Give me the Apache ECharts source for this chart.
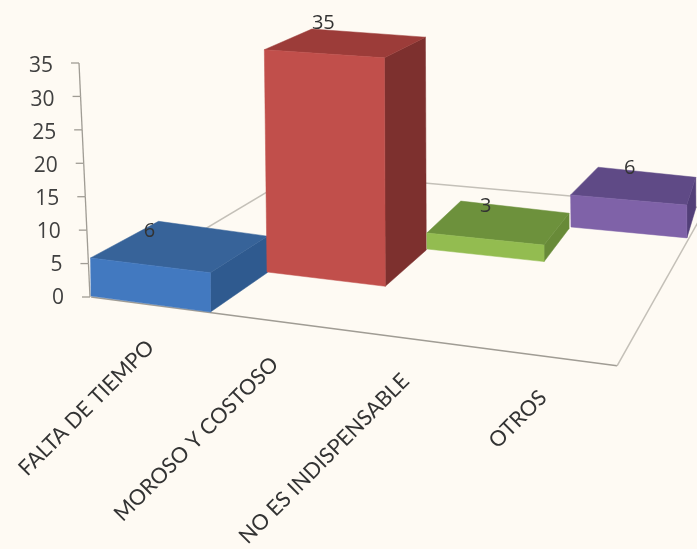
<!DOCTYPE html>
<html><head><meta charset="utf-8">
<style>html,body{margin:0;padding:0;background:#FEFAF3}#c{width:697px;height:549px}</style>
<script src="https://cdn.jsdelivr.net/npm/echarts@6/dist/echarts.min.js"></script>
</head><body><div id="c"></div>
<script>
var categories = ['FALTA DE TIEMPO', 'MOROSO Y COSTOSO', 'NO ES INDISPENSABLE', 'OTROS'];
var values = [6, 35, 3, 6];
var valueTicks = [0, 5, 10, 15, 20, 25, 30, 35];
var floorCorners = [[0, 0], [2.859, -10.3], [3.342, 13.3], [1.14, 18.7]];
var frontColors = ['#4279C0', '#C14F4B', '#93BC50', '#7F62A8'];
var topColors = ['#376399', '#9C3C39', '#6D913C', '#5F4A86'];
var sideColors = ['#2F5A8F', '#7D302E', '#688A38', '#523F78'];

var chart = echarts.init(document.getElementById('c'));
var FONT = '"Open Sans", sans-serif';

function poly(pts, fill) {
  return {type: 'polygon', shape: {points: pts}, style: {fill: fill, stroke: fill, lineWidth: 0.5}};
}
// hand-fitted oblique projection of the chart's 3D box onto the page
function renderBar(params, api) {
  var i = api.value(0), v = api.value(1);
  var z = api.coord([i, 0]), t = api.coord([i, v]);
  var h = (z[1] - t[1]) * (i < 2 ? 0.95 : 0.8);
  var bx = z[0] - 8 * i * i, by = z[1] - 1 - 24.5 * i + 0.5 * i * i;
  var lift = 1 - 0.0123 * v;
  var dxF = 119.5 - 1.2 * i, dyF = 16 - 1.7 * i;
  var dxL = 68 - 24 * i + 3.5 * i * i, dxR = 57 - 16 * i, dyD = 39.5 - 3.2 * i;
  var lean = -0.012 * h;
  var BL = [bx, by], BR = [bx + dxF, by + dyF];
  var TL = [bx + lean, by - h], TR = [bx + dxF + lean / 3, by - h + dyF * lift];
  var BK = [TL[0] + dxL, TL[1] - dyD * lift], KR = [TR[0] + dxR, TR[1] - dyD * lift];
  var SB = [BR[0] + dxR, BR[1] - dyD];
  return {type: 'group', children: [
    poly([TR, KR, SB, BR], sideColors[i]),
    poly([TL, BK, KR, TR], topColors[i]),
    poly([TL, TR, BR, BL], frontColors[i]),
    {type: 'text', x: TL[0] + 59, y: TL[1] - 26.5, style: {text: String(v), font: '20px ' + FONT, fill: '#333333', textAlign: 'center', textVerticalAlign: 'middle'}, z2: 10}
  ]};
}
function renderFloor(params, api) {
  if (params.dataIndex !== 0) return;
  var pts = floorCorners.map(function (c) { return api.coord(c); });
  var lines = [];
  for (var k = 0; k < 4; k++) {
    lines.push({type: 'line', shape: {x1: pts[k][0], y1: pts[k][1], x2: pts[(k + 1) % 4][0], y2: pts[(k + 1) % 4][1]},
      style: {stroke: k === 0 ? '#A09C94' : '#C4C0B8', lineWidth: 1.5}});
  }
  return {type: 'group', children: lines};
}
function slantX(api, v) { return api.coord([0, 0])[0] - 1 - 11 * v / 35; }
function renderTick(params, api) {
  var v = api.value(0), y = api.coord([0, v])[1], x = slantX(api, v);
  var kids = [
    {type: 'line', shape: {x1: x - 8, y1: y, x2: x, y2: y}, style: {stroke: '#A09C94', lineWidth: 1.3}},
    {type: 'text', x: x - 26, y: y + 1 + 2.5 * v / 35, style: {text: String(v), font: '21px ' + FONT, fill: '#404040', textAlign: 'right', textVerticalAlign: 'middle'}}
  ];
  if (v > 0) {
    var xp = slantX(api, v - 5), yp = api.coord([0, v - 5])[1];
    kids.push({type: 'line', shape: {x1: xp, y1: yp, x2: x, y2: y}, style: {stroke: '#A09C94', lineWidth: 1.3}});
  }
  return {type: 'group', children: kids};
}
function renderCat(params, api) {
  var i = api.value(0), z = api.coord([i, 0]);
  var x = z[0] + 59.5 - 63 * i + 3.3 * i * i, y = z[1] + 47 + 16.7 * i;
  return {type: 'text', x: x, y: y, rotation: Math.PI / 4,
    style: {text: categories[i], font: '21.5px Lato, ' + FONT, fill: '#333333', textAlign: 'right', textVerticalAlign: 'middle'}};
}
var barData = values.map(function (v, i) { return [i, v]; });
var catData = categories.map(function (c, i) { return [i]; });
chart.setOption({
  backgroundColor: '#FEFAF3',
  animation: false,
  grid: {left: 91, top: 63, width: 552, height: 234},
  xAxis: {type: 'value', min: 0, max: 3, show: false},
  yAxis: {type: 'value', min: 0, max: 35, interval: 5, show: false},
  series: [
    {type: 'custom', renderItem: renderFloor, data: [[0]], clip: false, silent: true, z: 1},
    {type: 'custom', renderItem: renderTick, data: valueTicks.map(function (v) { return [v]; }), encode: {y: 0}, clip: false, silent: true, z: 2},
    {type: 'custom', renderItem: renderBar, data: barData, clip: false, silent: true, z: 3},
    {type: 'custom', renderItem: renderCat, data: catData, clip: false, silent: true, z: 4}
  ]
});
</script></body></html>
